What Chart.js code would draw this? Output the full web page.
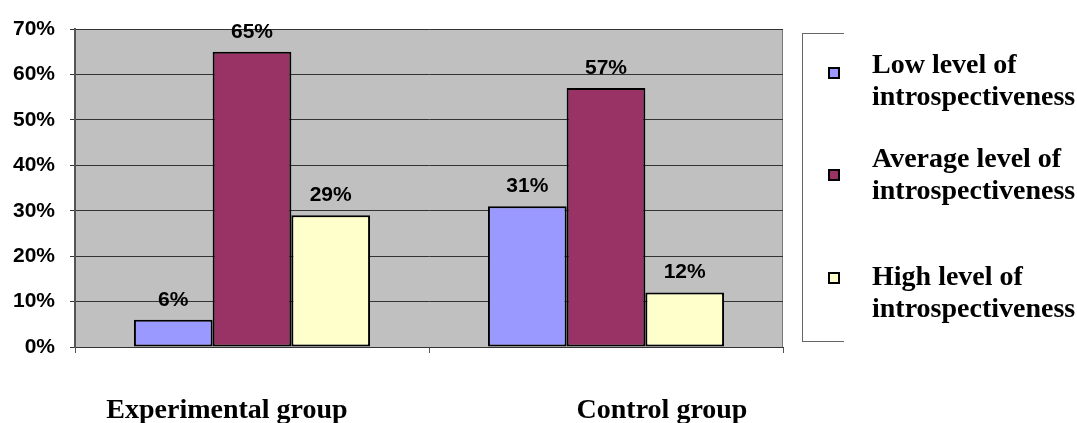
<!DOCTYPE html>
<html>
<head>
<meta charset="utf-8">
<script src="https://cdn.jsdelivr.net/npm/chart.js@4/dist/chart.umd.min.js"></script>
<style>
  html, body { margin: 0; padding: 0; background: #fff; }
  #wrap { position: relative; width: 1077px; height: 423px; overflow: hidden; }
  #chart { position: absolute; left: 0; top: 0; }
  #legend { position: absolute; left: 802px; top: 33px; width: 280px; height: 309px; }
  #legend .frame { position: absolute; left: 0; top: 0; width: 41px; height: 307px;
                   border: 1px solid #666; border-right: none; }
  #legend .swatch { position: absolute; left: 26px; width: 8px; height: 8px; border: 2px solid #000; }
  #legend .text { position: absolute; left: 70px; white-space: pre; color: #000;
                  font: bold 28px/32px "Liberation Serif", "Times New Roman", serif; }
</style>
</head>
<body>
<div id="wrap">
  <canvas id="chart" width="1077" height="423"></canvas>
  <div id="legend"><div class="frame"></div></div>
</div>
<script>
// Share of pupils at each introspectiveness level, per group (%)
const categories = ['Experimental group', 'Control group'];
const seriesNames = [
  'Low level of\nintrospectiveness',
  'Average level of\nintrospectiveness',
  'High level of\nintrospectiveness'
];
const lowLevel = [6, 31];
const averageLevel = [65, 57];
const highLevel = [29, 12];
const yTicks = [0, 10, 20, 30, 40, 50, 60, 70];

const seriesValues = [lowLevel, averageLevel, highLevel];
const seriesColors = ['#9999FF', '#993366', '#FFFFCC'];

// Legend row placement inside the framed legend box
const legendRows = [
  { textTop: 15, swatchTop: 34 },
  { textTop: 109, swatchTop: 136 },
  { textTop: 227, swatchTop: 239 }
];
// Horizontal shift of each group caption from its category centre
const captionShift = [-25, 56];

const sansBold = '"Liberation Sans", Arial, sans-serif';
const serifBold = '"Liberation Serif", "Times New Roman", serif';

const plotBackground = {
  id: 'plotBackground',
  beforeDraw(chart) {
    const { ctx, chartArea: a } = chart;
    ctx.save();
    ctx.fillStyle = '#C0C0C0';
    ctx.fillRect(a.left, a.top, a.right - a.left, a.bottom - a.top);
    ctx.strokeStyle = '#777';
    ctx.lineWidth = 1;
    ctx.beginPath();
    ctx.moveTo(a.right - 0.5, a.top);
    ctx.lineTo(a.right - 0.5, a.bottom);
    ctx.stroke();
    ctx.restore();
  }
};

const valueLabels = {
  id: 'valueLabels',
  afterDatasetsDraw(chart) {
    const { ctx } = chart;
    ctx.save();
    ctx.font = 'bold 21px ' + sansBold;
    ctx.fillStyle = '#000';
    ctx.textAlign = 'center';
    ctx.textBaseline = 'alphabetic';
    chart.data.datasets.forEach((ds, di) => {
      chart.getDatasetMeta(di).data.forEach((bar, i) => {
        ctx.fillText(ds.data[i] + '%', bar.x, bar.y - 14);
      });
    });
    ctx.restore();
  }
};

const groupCaptions = {
  id: 'groupCaptions',
  afterDraw(chart) {
    const { ctx } = chart;
    const xs = chart.scales.x;
    ctx.save();
    ctx.font = 'bold 28px ' + serifBold;
    ctx.fillStyle = '#000';
    ctx.textAlign = 'center';
    ctx.textBaseline = 'alphabetic';
    chart.data.labels.forEach((lab, i) => {
      ctx.fillText(lab, xs.getPixelForValue(i) + captionShift[i], 418);
    });
    ctx.restore();
  }
};

new Chart(document.getElementById('chart'), {
  type: 'bar',
  data: {
    labels: categories,
    datasets: seriesNames.map((name, i) => ({
      label: name,
      data: seriesValues[i],
      backgroundColor: seriesColors[i],
      borderColor: '#000',
      borderWidth: 2,
      borderSkipped: false,
      categoryPercentage: 0.667,
      barPercentage: 1.0
    }))
  },
  options: {
    responsive: false,
    animation: false,
    layout: { padding: { left: 0, right: 294, top: 29, bottom: 0 } },
    plugins: { legend: { display: false }, tooltip: { enabled: false } },
    scales: {
      x: {
        offset: true,
        grid: { offset: true, drawOnChartArea: false, drawTicks: true, tickLength: 6, color: '#555' },
        border: { color: '#333', width: 1 },
        ticks: { display: false },
        afterFit(scale) { scale.height = 76; }
      },
      y: {
        min: 0,
        max: 70,
        grid: { color: '#333', lineWidth: 1, tickLength: 5 },
        border: { color: '#555', width: 2 },
        ticks: {
          padding: 15,
          color: '#000',
          font: { family: sansBold, size: 21, weight: 'bold' },
          callback: (v) => v + '%'
        },
        afterBuildTicks(scale) { scale.ticks = yTicks.map(v => ({ value: v })); },
        afterFit(scale) { scale.width = 75; }
      }
    }
  },
  plugins: [plotBackground, valueLabels, groupCaptions]
});

// Legend built from the same series
const legend = document.getElementById('legend');
seriesNames.forEach((name, i) => {
  const sw = document.createElement('div');
  sw.className = 'swatch';
  sw.style.top = legendRows[i].swatchTop + 'px';
  sw.style.background = seriesColors[i];
  legend.appendChild(sw);
  const tx = document.createElement('div');
  tx.className = 'text';
  tx.style.top = legendRows[i].textTop + 'px';
  tx.textContent = name;
  legend.appendChild(tx);
});
</script>
</body>
</html>
